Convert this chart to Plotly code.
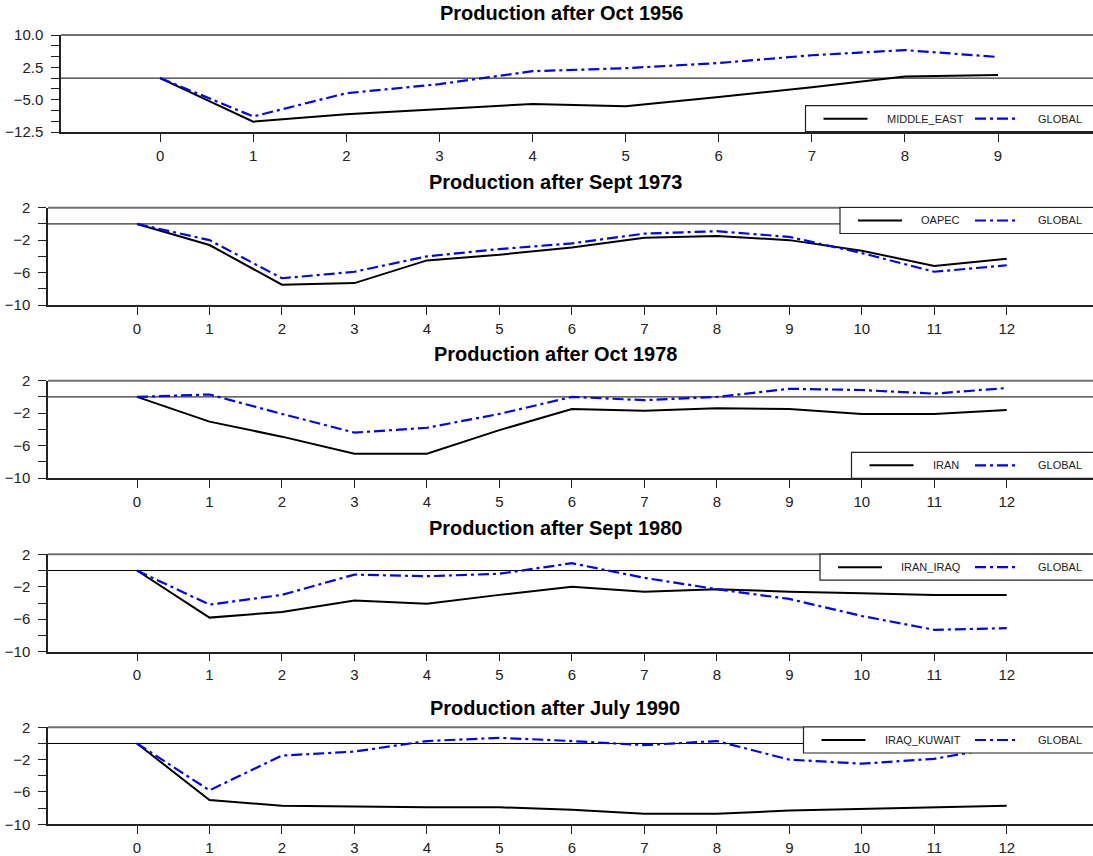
import plotly.graph_objects as go

W, H = 1093, 856

titles = ["Production after Oct 1956", "Production after Sept 1973", "Production after Oct 1978",
          "Production after Sept 1980", "Production after July 1990"]
regions = ["MIDDLE_EAST", "OAPEC", "IRAN", "IRAN_IRAQ", "IRAQ_KUWAIT"]

x1956 = list(range(10))
x12 = list(range(13))

middle_east = [0, -10.1, -8.4, -7.2, -6.0, -6.5, -4.4, -2.1, 0.4, 0.7]
global_1956 = [0, -8.9, -3.5, -1.4, 1.6, 2.3, 3.5, 5.3, 6.5, 4.9]

oapec = [0, -2.6, -7.5, -7.3, -4.5, -3.8, -2.9, -1.7, -1.5, -2.0, -3.3, -5.2, -4.3]
global_1973 = [0, -2.0, -6.7, -5.9, -4.0, -3.1, -2.4, -1.2, -0.9, -1.6, -3.6, -5.9, -5.1]

iran = [0, -3.05, -4.9, -7.0, -7.0, -4.1, -1.5, -1.7, -1.4, -1.5, -2.1, -2.1, -1.6]
global_1978 = [0, 0.3, -2.1, -4.4, -3.8, -2.1, 0.0, -0.4, 0.0, 1.0, 0.85, 0.4, 1.1]

iran_iraq = [0, -5.8, -5.1, -3.7, -4.1, -3.0, -2.0, -2.6, -2.3, -2.6, -2.8, -3.0, -3.0]
global_1980 = [0, -4.2, -3.0, -0.5, -0.7, -0.4, 0.9, -0.9, -2.3, -3.5, -5.6, -7.3, -7.1]

iraq_kuwait = [0, -7.0, -7.7, -7.8, -7.9, -7.9, -8.2, -8.7, -8.7, -8.3, -8.1, -7.95, -7.7]
global_1990 = [0, -5.8, -1.5, -1.0, 0.3, 0.7, 0.3, -0.2, 0.3, -2.0, -2.5, -1.9, -0.3]

xs = [x1956, x12, x12, x12, x12]
regional = [middle_east, oapec, iran, iran_iraq, iraq_kuwait]
globals_ = [global_1956, global_1973, global_1978, global_1980, global_1990]

# layout in pixels
tops = [35, 207.7, 380.7, 554.3, 727.3]
bots = [132, 305, 478, 651.7, 824.3]
lefts = [61, 48, 48, 48, 48]
xranges = [[-1.065, 10.02], [-1.228, 13.19], [-1.228, 13.19], [-1.228, 13.19], [-1.228, 13.19]]
title_y = [13, 182, 354, 528, 708]
title_x = [561, 556, 555, 556, 555]
legend_top = [105.7, 207.5, 452.3, 554.2, 727]
legend_left = [805.5, 840, 851.5, 820, 803.5]
LEG_H = 26

fig = go.Figure()
font_family = "Liberation Sans, Arial, sans-serif"
axis_color = "#222222"
GLOBAL_DASH = "11px,4px,3px,4px"

shapes = []
annotations = []


def px_x(v):
    return v / W


def px_y(v):
    return 1 - v / H


for i in range(5):
    n = "" if i == 0 else str(i + 1)
    fig.add_trace(go.Scatter(x=xs[i], y=regional[i], mode="lines", name=regions[i],
                             line=dict(color="black", width=2),
                             xaxis="x" + n, yaxis="y" + n, showlegend=False))
    fig.add_trace(go.Scatter(x=xs[i], y=globals_[i], mode="lines", name="GLOBAL",
                             line=dict(color="#0000FF", width=2.2, dash=GLOBAL_DASH),
                             xaxis="x" + n, yaxis="y" + n, showlegend=False))
    ydom = [1 - bots[i] / H, 1 - tops[i] / H]
    xdom = [lefts[i] / W, 1]
    if i == 0:
        yr = [-12.5, 10]
        ytick0, ydt, ymdt, fmt = -12.5, 7.5, 2.5, ".1f"
    else:
        yr = [-10, 2]
        ytick0, ydt, ymdt, fmt = -10, 4, 2, "d"
    fig.layout["xaxis" + n] = dict(
        domain=xdom, range=xranges[i], anchor="y" + n, tickmode="array",
        tickvals=xs[i], ticks="outside", ticklen=8, tickcolor=axis_color, tickwidth=1.2,
        showline=True, linecolor=axis_color, linewidth=1.5, showgrid=False, zeroline=False,
        ticklabelstandoff=1,
        tickfont=dict(size=15, color="#222", family=font_family), automargin=False)
    fig.layout["yaxis" + n] = dict(
        domain=ydom, range=yr, anchor="x" + n, tick0=ytick0, dtick=ydt, tickformat=fmt,
        ticks="outside", ticklen=8, tickcolor=axis_color, tickwidth=1.2,
        minor=dict(dtick=ymdt, tick0=ytick0, ticks="outside", ticklen=8, tickcolor=axis_color,
                   tickwidth=1.2),
        showline=True, linecolor=axis_color, linewidth=1.5, showgrid=False, zeroline=False,
        ticklabelstandoff=5,
        tickfont=dict(size=15, color="#222", family=font_family), automargin=False)
    # zero line
    shapes.append(dict(type="line", xref=f"x{n} domain", yref="y" + n, x0=0, x1=1, y0=0, y1=0,
                       line=dict(color="black", width=1), layer="below"))
    # top border
    shapes.append(dict(type="line", xref=f"x{n} domain", yref=f"y{n} domain", x0=0, x1=1, y0=1, y1=1,
                       line=dict(color="#707070", width=2)))
    annotations.append(dict(text=f"<b>{titles[i]}</b>", xref="paper", yref="paper",
                            x=px_x(title_x[i]), y=px_y(title_y[i]), xanchor="center", yanchor="middle",
                            showarrow=False, font=dict(size=20, color="black", family=font_family)))
    # legend box
    lt, ll = legend_top[i], legend_left[i]
    cy = lt + LEG_H / 2
    shapes.append(dict(type="rect", xref="paper", yref="paper",
                       x0=px_x(ll), x1=px_x(W + 2), y0=px_y(lt + LEG_H), y1=px_y(lt),
                       fillcolor="white", line=dict(color="#222", width=1.2), layer="above"))
    shapes.append(dict(type="line", xref="paper", yref="paper",
                       x0=px_x(ll + 18), x1=px_x(ll + 62), y0=px_y(cy), y1=px_y(cy),
                       line=dict(color="black", width=2), layer="above"))
    shapes.append(dict(type="line", xref="paper", yref="paper",
                       x0=px_x(975), x1=px_x(1019), y0=px_y(cy), y1=px_y(cy),
                       line=dict(color="#0000FF", width=2.2, dash=GLOBAL_DASH), layer="above"))
    annotations.append(dict(text=regions[i], xref="paper", yref="paper",
                            x=px_x(ll + 79), y=px_y(cy), xanchor="left", yanchor="middle",
                            showarrow=False, font=dict(size=11, color="#222", family=font_family)))
    annotations.append(dict(text="GLOBAL", xref="paper", yref="paper",
                            x=px_x(1036), y=px_y(cy), xanchor="left", yanchor="middle",
                            showarrow=False, font=dict(size=11, color="#222", family=font_family)))

fig.update_layout(width=W, height=H, margin=dict(l=0, r=0, t=0, b=0),
                  paper_bgcolor="white", plot_bgcolor="white",
                  shapes=shapes, annotations=annotations, showlegend=False,
                  font=dict(family=font_family))
fig.write_html("out.html", config={"displayModeBar": False},
               post_script="document.body.style.margin='0';document.body.style.overflow='hidden';")
